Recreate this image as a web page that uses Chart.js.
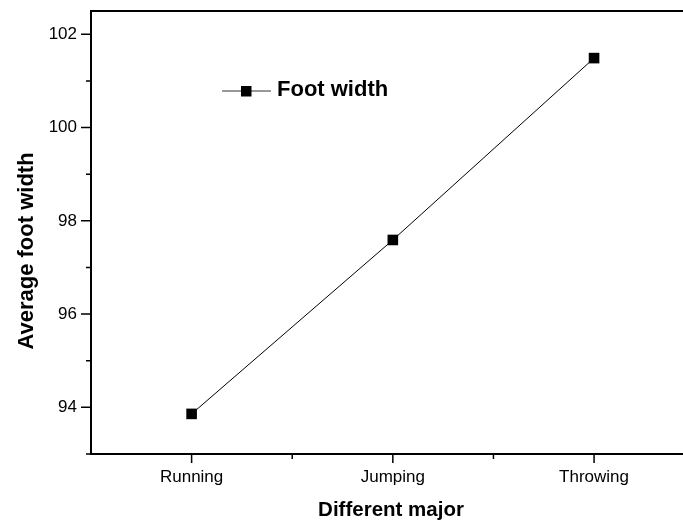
<!DOCTYPE html>
<html>
<head>
<meta charset="utf-8">
<script src="https://cdn.jsdelivr.net/npm/chart.js@4"></script>
<style>
  html, body { margin: 0; padding: 0; background: #fff; overflow: hidden; }
  #wrap { width: 683px; height: 523px; }
</style>
</head>
<body>
<div id="wrap"><canvas id="myChart" width="683" height="523"></canvas></div>
<script>
const ctx = document.getElementById("myChart").getContext("2d");

const categories = ["Running", "Jumping", "Throwing"];
const footWidth = [93.86, 97.59, 101.49];
const yTicks = [94, 96, 98, 100, 102];
const yMinorTicks = [93, 95, 97, 99, 101];
const xMinorTicks = [1.5, 2.5];
const seriesName = "Foot width";
const xTitle = "Different major";
const yTitle = "Average foot width";

const FONT = "'Liberation Sans', Arial, sans-serif";

// axes, ticks, titles and legend drawn by hand from the chart's scales
const frame = {
  id: "frame",
  afterDraw(chart) {
    const c = chart.ctx;
    const x = chart.scales.x, y = chart.scales.y;
    const a = chart.chartArea;
    c.save();
    c.strokeStyle = "#000";
    c.lineWidth = 2;
    c.beginPath();
    c.moveTo(a.left, a.top); c.lineTo(a.left, a.bottom);
    c.moveTo(a.left - 1, a.bottom); c.lineTo(a.right, a.bottom);
    c.moveTo(a.left - 1, a.top); c.lineTo(a.right, a.top);
    c.stroke();

    c.lineWidth = 1.5;
    c.beginPath();
    yTicks.forEach(v => { const p = y.getPixelForValue(v); c.moveTo(a.left, p); c.lineTo(a.left - 10, p); });
    yMinorTicks.forEach(v => { const p = y.getPixelForValue(v); c.moveTo(a.left, p); c.lineTo(a.left - 5, p); });
    categories.forEach((n, i) => { const p = x.getPixelForValue(i + 1); c.moveTo(p, a.bottom); c.lineTo(p, a.bottom + 9); });
    xMinorTicks.forEach(v => { const p = x.getPixelForValue(v); c.moveTo(p, a.bottom); c.lineTo(p, a.bottom + 5); });
    c.stroke();

    c.fillStyle = "#000";
    c.font = "17px " + FONT;
    c.textAlign = "right";
    c.textBaseline = "middle";
    yTicks.forEach(v => c.fillText(String(v), a.left - 14, y.getPixelForValue(v)));
    c.textAlign = "center";
    c.textBaseline = "top";
    categories.forEach((n, i) => c.fillText(n, x.getPixelForValue(i + 1), a.bottom + 15));

    c.font = "bold 20.5px " + FONT;
    c.textBaseline = "alphabetic";
    c.fillText(xTitle, 391, 516);
    c.save();
    c.translate(33, 251);
    c.rotate(-Math.PI / 2);
    c.font = "bold 22px " + FONT;
    c.fillText(yTitle, 0, 0);
    c.restore();

    // legend
    c.strokeStyle = "#333";
    c.lineWidth = 1;
    c.beginPath();
    c.moveTo(222, 91); c.lineTo(271, 91);
    c.stroke();
    c.fillRect(241, 86, 10.5, 10.5);
    c.font = "bold 22px " + FONT;
    c.textAlign = "left";
    c.textBaseline = "middle";
    c.fillText(seriesName, 277, 90);
    c.restore();
  }
};

const data = {
  datasets: [{
    label: seriesName,
    data: footWidth.map((v, i) => ({ x: i + 1, y: v })),
    borderColor: "#000",
    borderWidth: 1,
    backgroundColor: "#000",
    pointStyle: "rect",
    pointRadius: 7.5,
    pointBorderWidth: 0,
    pointBackgroundColor: "#000",
    tension: 0,
    clip: false
  }]
};

const config = {
  type: "line",
  data: data,
  options: {
    responsive: false,
    animation: false,
    layout: { autoPadding: false, padding: { left: 91, top: 11, right: 0, bottom: 69 } },
    plugins: { legend: { display: false }, tooltip: { enabled: false } },
    scales: {
      x: { type: "linear", min: 0.5, max: 3.442, display: false },
      y: { min: 93, max: 102.5, display: false }
    }
  },
  plugins: [frame]
};

const myChart = new Chart(ctx, config);
</script>
</body>
</html>
